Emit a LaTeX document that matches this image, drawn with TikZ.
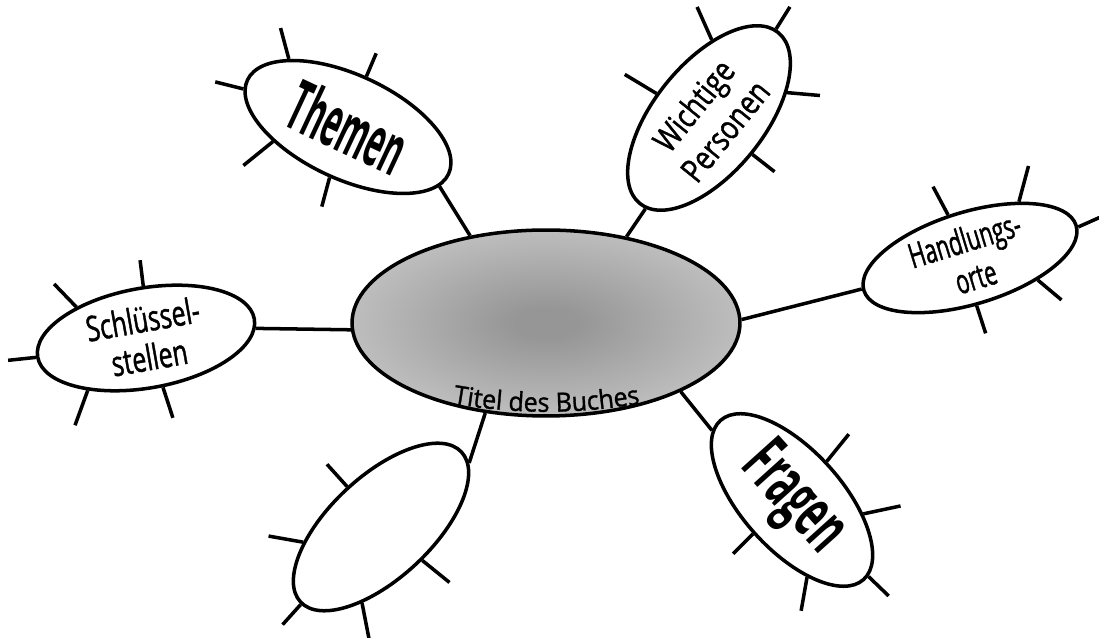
\documentclass[tikz,border=0pt]{standalone}
\usepackage{fontspec}
\setmainfont{Open Sans}
\usetikzlibrary{shapes.geometric,decorations.text}
\definecolor{MapDark}{HTML}{969696}
\definecolor{MapLight}{HTML}{D2D2D2}
\pgfdeclareradialshading{mapshade}{\pgfpoint{0bp}{0bp}}{color(0bp)=(MapDark); color(4bp)=(MapDark); color(36bp)=(MapLight); color(50bp)=(MapLight)}

\begin{document}
\begin{tikzpicture}[x=0.02cm,y=0.02cm,
  bubble/.style={draw, ellipse, line width=2pt, fill=white, inner sep=-6pt, align=center},
  hub/.style={draw, ellipse, line width=2pt, shading=mapshade, inner sep=0pt},
  spoke/.style={line width=2pt},
  link/.style={line width=2pt}]
\path[use as bounding box, fill=white] (0,0) rectangle (1099,638);
% Mitte
\node[hub, minimum width=7.76cm, minimum height=3.72cm] (buch) at (546,315) {};
\path[decorate, decoration={text along path, text align=center,
    text={|\fontsize{15}{15}\selectfont\addfontfeatures{FakeStretch=0.95,FakeBold=1.2}|Titel des Buches}}]
  (430,239) .. controls (503,222) and (590,222) .. (663,239);
% Aeste
\node[bubble, rotate=-25, minimum width=4.44cm, minimum height=2.08cm,
  font=\fontsize{40}{40}\selectfont\bfseries\addfontfeatures{FakeStretch=0.43}] (themen) at (348,511) {Themen};
\node[bubble, rotate=51, minimum width=4.4cm, minimum height=2.2cm,
  font=\fontsize{19}{23}\selectfont\addfontfeatures{FakeStretch=0.8,FakeBold=1.2}] (personen) at (709,520) {Wichtige\\Personen};
\node[bubble, rotate=17, minimum width=4.44cm, minimum height=1.84cm,
  font=\fontsize{19.5}{22}\selectfont\addfontfeatures{FakeStretch=0.63,FakeBold=1.2}] (orte) at (970,380) {Handlungs-\\orte};
\node[bubble, rotate=10, minimum width=4.4cm, minimum height=2cm,
  font=\fontsize{20}{22}\selectfont\addfontfeatures{FakeStretch=0.71,FakeBold=1.2}] (stellen) at (146,300) {Schlüssel-\\stellen};
\node[bubble, rotate=43, minimum width=4.4cm, minimum height=2.04cm] (leer) at (381,111) {};
\node[bubble, rotate=-48, minimum width=4.28cm, minimum height=2cm,
  font=\fontsize{40}{40}\selectfont\bfseries\addfontfeatures{FakeStretch=0.5}] (fragen) at (792,138) {Fragen};
% Verbindungen
\draw[link] (buch.131) -- (themen.-8);
\draw[link] (buch.47) -- (personen.184);
\draw[link] (buch.1) -- (orte.179);
\draw[link] (buch.182) -- (stellen.-5);
\draw[link] (buch.236) -- (leer.-7);
\draw[link] (buch.333) -- (fragen.187);
% Strahlen
\foreach \t/\d/\l in {185/166/29, 156/105/32, 95/67/25, 216/219/38, 275/255/30}
  \draw[spoke] (themen.\t) -- ++(\d:\l);
\foreach \t/\d/\l in {104/149/37, 37/114/36, 2/58/26, -33/-5/33, -91/-38/28}
  \draw[spoke] (personen.\t) -- ++(\d:\l);
\foreach \t/\d/\l in {100/118/32, 32/75/37, -1/24/25, -35/-40/31, -99/-72/29}
  \draw[spoke] (orte.\t) -- ++(\d:\l);
\foreach \t/\d/\l in {146/134/32, 83/97/26, 180/186/28, 212/250/37, -81/-72/32}
  \draw[spoke] (stellen.\t) -- ++(\d:\l);
\foreach \t/\d/\l in {87/132/30, 148/170/35, -82/-39/35, 181/228/27, 213/-79/38}
  \draw[spoke] (leer.\t) -- ++(\d:\l);
\foreach \t/\d/\l in {96/51/35, 37/12/38, 269/225/28, -31/260/34, 3/-44/28}
  \draw[spoke] (fragen.\t) -- ++(\d:\l);
\end{tikzpicture}
\end{document}
